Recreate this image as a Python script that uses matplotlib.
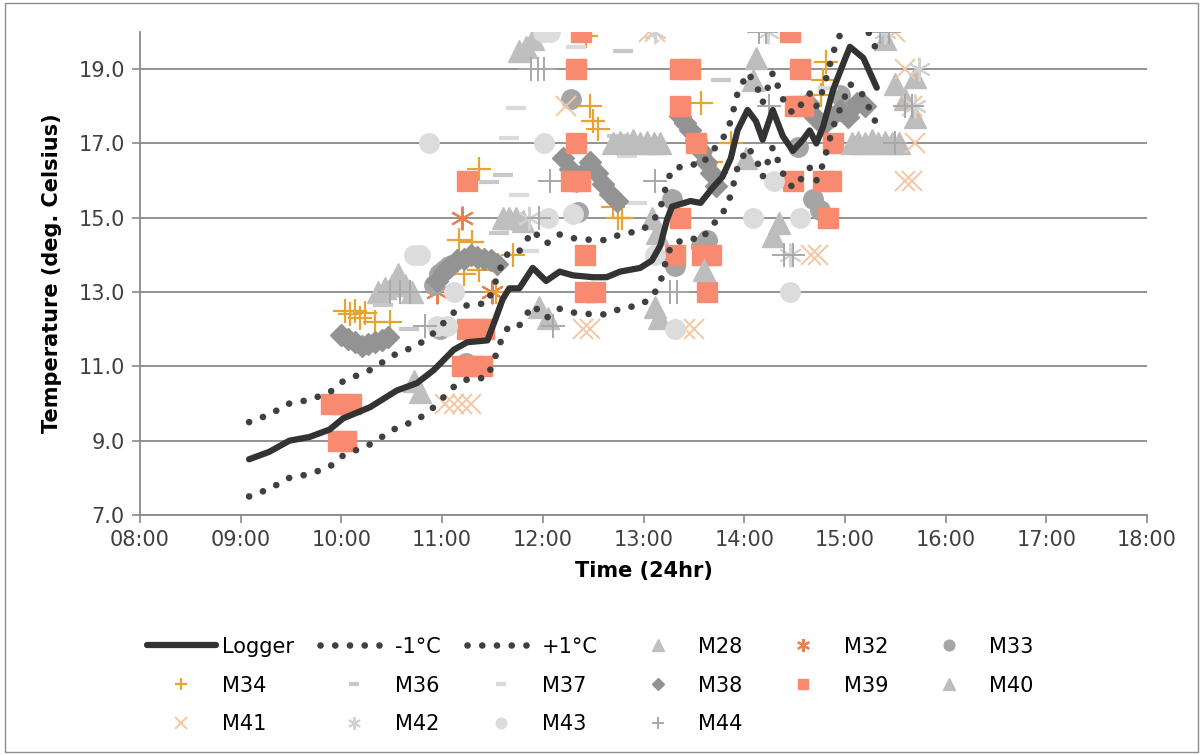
import numpy as np
import matplotlib
matplotlib.use('Agg')
from matplotlib import pyplot as plt
from matplotlib.patches import Rectangle

# ---- data (times as HH:MM, temperatures in deg C) ----
logger_t = ["09:05", "09:17", "09:29", "09:41", "09:53", "10:01", "10:17", "10:33", "10:45", "10:55",
            "11:07", "11:15", "11:27", "11:32", "11:36", "11:40", "11:46", "11:54", "12:02", "12:10",
            "12:18", "12:30", "12:38", "12:46", "12:58", "13:05", "13:10", "13:14", "13:17", "13:28",
            "13:34", "13:41", "13:47", "13:52", "13:56", "14:02", "14:07", "14:11", "14:17", "14:23",
            "14:29", "14:35", "14:39", "14:43", "14:47", "14:53", "14:59", "15:03", "15:11", "15:19"]
logger_v = [8.5, 8.7, 9.0, 9.1, 9.3, 9.6, 9.9, 10.35, 10.55, 10.9,
            11.45, 11.65, 11.7, 12.3, 12.8, 13.1, 13.1, 13.65, 13.3, 13.55,
            13.45, 13.4, 13.4, 13.55, 13.65, 13.85, 14.25, 14.95, 15.3, 15.45,
            15.4, 15.8, 16.1, 16.6, 17.35, 17.9, 17.6, 17.1, 17.9, 17.2,
            16.8, 17.1, 17.35, 17.0, 17.45, 18.45, 19.15, 19.6, 19.3, 18.5]
band = 1.0  # +/- 1 deg C accuracy band around the logger

m28_t = ["11:46", "11:50", "11:54", "10:22", "10:26", "10:30", "10:34", "10:38", "10:42", "10:43",
         "10:47", "11:36", "11:40", "11:44", "11:48", "11:58", "12:03"]
m28_v = [19.5, 19.6, 19.8, 13.0, 13.1, 13.2, 13.5, 13.2, 13.0, 10.6,
         10.3, 15.0, 15.0, 15.0, 14.9, 12.6, 12.3]

m32_t = ["11:12", "10:57", "11:30"]
m32_v = [15.0, 13.0, 13.0]

m33_t = ["10:55", "10:58", "11:01", "11:04", "10:59", "11:14", "12:17", "12:21", "13:17", "13:19",
         "13:34", "13:38", "14:32", "14:41", "14:45", "14:57"]
m33_v = [13.2, 13.5, 13.6, 13.7, 12.0, 11.1, 18.2, 15.15, 15.5, 13.7,
         14.25, 14.4, 16.9, 15.5, 15.2, 18.3]

m34_t = ["10:02", "10:05", "10:08", "10:11", "10:14", "10:20", "10:29", "11:10", "11:18", "11:22",
         "11:13", "11:22", "11:32", "11:42", "12:28", "12:30", "12:33", "12:26", "12:42", "12:45",
         "12:47", "13:34", "13:40", "13:43", "13:52", "14:49", "14:47", "14:46"]
m34_v = [12.5, 12.4, 12.5, 12.3, 12.45, 12.2, 12.2, 14.4, 14.35, 16.3,
         13.5, 13.6, 13.0, 14.0, 18.0, 17.6, 17.4, 19.9, 15.3, 15.0,
         15.0, 18.1, 16.5, 16.2, 17.0, 19.2, 18.7, 18.3]

m36_t = ["10:25", "11:36", "11:28", "11:34", "12:44", "12:48", "13:46", "10:40"]
m36_v = [12.65, 16.15, 15.95, 14.6, 17.2, 19.5, 18.7, 12.0]

m37_t = ["11:44", "11:40", "11:46", "11:52", "12:50", "12:56", "14:50", "12:20"]
m37_v = [17.95, 17.15, 15.6, 14.1, 16.65, 15.4, 18.5, 19.6]

m38_t = ["10:00", "10:04", "10:08", "10:12", "10:16", "10:20", "10:24", "10:28",
         "10:57", "11:01", "11:05", "11:09", "11:13", "11:17", "11:21", "11:25", "11:29", "11:33",
         "12:12", "12:16", "12:20", "12:24", "12:28", "12:32", "12:36", "12:40", "12:44",
         "13:22", "13:25", "13:28", "13:31", "13:34", "13:37", "13:40", "13:43",
         "14:38", "14:42", "14:47", "14:52", "14:57", "15:02", "15:07", "15:12"]
m38_v = [11.85, 11.75, 11.65, 11.55, 11.6, 11.65, 11.7, 11.8,
         13.3, 13.55, 13.7, 13.85, 13.9, 14.0, 13.95, 13.9, 13.85, 13.75,
         16.6, 16.3, 16.0, 16.2, 16.5, 16.2, 15.9, 15.65, 15.45,
         17.75, 17.55, 17.35, 17.1, 16.8, 16.5, 16.2, 15.85,
         18.1, 17.7, 17.5, 17.7, 17.9, 17.7, 18.1, 18.0]

m39_t = ["09:54", "10:00", "10:06", "09:58", "10:03", "11:15", "11:20", "11:25", "11:12", "11:18",
         "11:24", "11:15", "12:23", "12:20", "12:20", "12:17", "12:22", "12:25", "12:25", "12:31",
         "13:22", "13:28", "13:22", "13:31", "13:22", "13:19", "13:35", "13:40", "13:38",
         "14:27", "14:33", "14:30", "14:35", "14:29", "14:53", "14:47", "14:52", "14:50"]
m39_v = [10, 10, 10, 9, 9, 12, 12, 12, 11, 11,
         11, 16, 20, 19, 17, 16, 16, 14, 13, 13,
         19, 19, 18, 17, 15, 14, 14, 14, 13,
         20, 19, 18, 18, 16, 17, 16, 16, 15]

m40_t = ["12:42", "12:46", "12:50", "12:54", "12:58", "13:02", "13:06", "13:10", "13:05", "13:08",
         "13:07", "13:09", "13:36", "14:17", "14:21", "14:07", "14:05", "14:01",
         "15:04", "15:08", "15:12", "15:16", "15:20", "15:24", "15:28", "15:32",
         "15:24", "15:30", "15:42", "15:42", "15:36"]
m40_v = [17.0, 17.05, 17.0, 17.1, 17.0, 17.05, 17.0, 17.0, 15.0, 14.6,
         12.6, 12.3, 13.6, 14.5, 14.85, 19.3, 18.7, 16.6,
         17.0, 17.05, 17.0, 17.1, 17.0, 17.05, 17.0, 17.0,
         19.8, 18.6, 17.7, 18.8, 18.2]

m41_t = ["11:02", "11:07", "11:12", "11:17", "12:24", "12:28", "13:25", "13:30", "14:40", "14:44",
         "15:36", "15:40", "15:42", "15:36", "15:40", "13:03", "13:07", "12:14", "15:30"]
m41_v = [10, 10, 10, 10, 12, 12, 12, 12, 14, 14,
         16, 16, 17, 19, 18, 20, 20, 18, 20]

m42_t = ["13:07", "14:14", "15:24", "15:44", "15:42", "14:27", "11:52"]
m42_v = [20, 20, 20, 19, 18, 14, 15]

m43_t = ["10:52", "10:43", "10:47", "10:57", "11:03", "11:07", "12:00", "12:04", "12:03", "12:01",
         "12:18", "13:19", "14:05", "14:18", "14:33", "14:27", "13:07"]
m43_v = [17.0, 14.0, 14.0, 12.1, 12.1, 13.0, 20.0, 20.0, 15.0, 17.0,
         15.1, 12.0, 15.0, 16.0, 15.0, 13.0, 14.0]

m44_t = ["10:29", "10:35", "10:41", "10:50", "11:58", "12:04", "12:06", "11:53", "11:57", "12:01",
         "13:07", "13:16", "13:20", "14:09", "14:13", "14:15", "14:24", "14:29", "15:21", "15:26",
         "15:36", "15:40", "15:30"]
m44_v = [13.0, 13.0, 13.0, 12.1, 15.0, 16.0, 12.1, 19.0, 19.0, 19.0,
         16.0, 13.0, 13.0, 20.0, 20.0, 18.0, 14.0, 14.0, 20.0, 20.0,
         18.0, 18.0, 17.0]

x_ticks = list(range(8, 19))
y_ticks = [7, 9, 11, 13, 15, 17, 19]


def hrs(times):
    return np.array([int(t[:2]) + int(t[3:]) / 60.0 for t in times])


star = (6, 2, 0)
series = [
    ("M28", m28_t, m28_v, dict(marker='^', color='#BFBFBF', ms=16)),
    ("M32", m32_t, m32_v, dict(marker=star, color='#EC7F4F', ms=17, mew=1.5)),
    ("M33", m33_t, m33_v, dict(marker='o', color='#A5A5A5', ms=14)),
    ("M34", m34_t, m34_v, dict(marker='+', color='#E8A431', ms=17, mew=1.6)),
    ("M36", m36_t, m36_v, dict(marker='_', color='#C8C8C8', ms=14, mew=3)),
    ("M37", m37_t, m37_v, dict(marker='_', color='#DADADA', ms=14, mew=3)),
    ("M38", m38_t, m38_v, dict(marker='D', color='#939393', ms=11)),
    ("M39", m39_t, m39_v, dict(marker='s', color='#F88A70', ms=14)),
    ("M40", m40_t, m40_v, dict(marker='^', color='#BDBDBD', ms=16)),
    ("M41", m41_t, m41_v, dict(marker='x', color='#F5C6A2', ms=15, mew=1.4)),
    ("M42", m42_t, m42_v, dict(marker=star, color='#D2D2D2', ms=17, mew=1.4)),
    ("M43", m43_t, m43_v, dict(marker='o', color='#DCDCDC', ms=14)),
    ("M44", m44_t, m44_v, dict(marker='+', color='#A8A8A8', ms=17, mew=1.4)),
]

plt.rcParams['font.family'] = 'DejaVu Sans'
fig = plt.figure(figsize=(12.03, 7.55), dpi=100)
ax = fig.add_axes([140 / 1203, 1 - 515 / 755, (1147 - 140) / 1203, (515 - 32) / 755])

lt = hrs(logger_t)
lv = np.array(logger_v)
h_log, = ax.plot(lt, lv, color='#333333', lw=4.5, solid_capstyle='round',
                 solid_joinstyle='round', zorder=5, label='Logger')
dots = dict(color='#404040', lw=4.8, linestyle=(0, (0.01, 2.2)),
            dash_capstyle='round', zorder=5)
h_lo, = ax.plot(lt, lv - band, label='-1\u00b0C', **dots)
h_hi, = ax.plot(lt, lv + band, label='+1\u00b0C', **dots)

handles = [h_log, h_lo, h_hi]
for name, t, v, st in series:
    st = dict(st)
    c = st.pop('color')
    h, = ax.plot(hrs(t), v, linestyle='none', mfc=c, mec=c, label=name, zorder=3, **st)
    handles.append(h)

ax.set_xlim(8, 18)
ax.set_ylim(7, 20)
ax.set_xticks(x_ticks)
ax.set_xticklabels(["%02d:00" % h for h in x_ticks])
ax.set_yticks(y_ticks)
ax.set_yticklabels(["%.1f" % y for y in y_ticks])
ax.yaxis.grid(True, color='#8A8A8A', lw=1.3)
ax.set_axisbelow(True)
for s in ['top', 'right']:
    ax.spines[s].set_visible(False)
for s in ['left', 'bottom']:
    ax.spines[s].set_color('#8A8A8A')
    ax.spines[s].set_linewidth(1.3)
ax.tick_params(axis='both', length=6, width=1.2, color='#8A8A8A',
               labelsize=15, labelcolor='#404040', pad=5)

ax.set_xlabel('Time (24hr)', fontsize=15, fontweight='bold', labelpad=8)
ax.set_ylabel('Temperature (deg. Celsius)', fontsize=15, fontweight='bold', labelpad=12)

# legend is filled row by row in the original; matplotlib fills columns
ncol = 6
nrow = int(np.ceil(len(handles) / ncol))
order = [handles[r * ncol + c] for c in range(ncol) for r in range(nrow)
         if r * ncol + c < len(handles)]
fig.legend(order, [h.get_label() for h in order], loc='upper left',
           bbox_to_anchor=(128 / 1203, 1 - 618 / 755), ncol=ncol, frameon=False,
           fontsize=15, handlelength=3.3, handletextpad=0.3, columnspacing=1.25,
           labelspacing=0.9, markerscale=0.55, numpoints=1)

fig.patches.append(Rectangle((0.004, 0.004), 0.992, 0.992, transform=fig.transFigure,
                             fill=False, edgecolor='#8C8C8C', lw=1))

fig.savefig('out.png', dpi=100, facecolor='white')
